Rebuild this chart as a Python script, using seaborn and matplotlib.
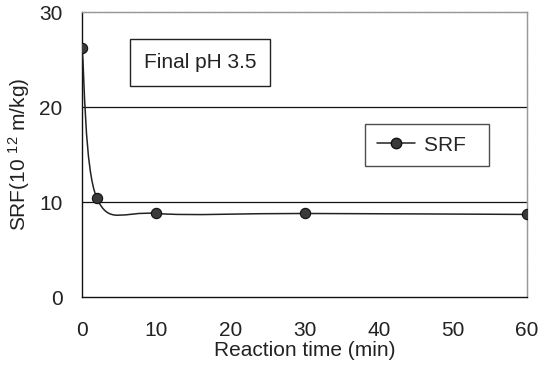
import numpy as np
import matplotlib
matplotlib.use("Agg")
import matplotlib.pyplot as plt
from matplotlib.path import Path
from matplotlib.patches import PathPatch
from matplotlib.lines import Line2D
import seaborn as sns
import pandas as pd

time_min = [0, 2, 10, 30, 60]
srf = [26.2, 10.4, 8.8, 8.8, 8.7]
x_ticks = [0, 10, 20, 30, 40, 50, 60]
y_ticks = [0, 10, 20, 30]

sns.set_theme(style="white")
plt.rcParams['font.family'] = ['Liberation Sans', 'DejaVu Sans']
plt.rcParams['mathtext.default'] = 'regular'

df = pd.DataFrame({"time": time_min, "SRF": srf})

fig = plt.figure(figsize=(5.4, 3.69), dpi=100)
ax = fig.add_axes([0.152, 0.195, 0.824, 0.772])

# Excel-style smoothed line (Bezier through data points)
pts = np.column_stack([time_min, srf]).astype(float)
n = len(pts)
verts = [pts[0]]
codes = [Path.MOVETO]
for i in range(n - 1):
    p0 = pts[i - 1] if i > 0 else pts[i]
    p1 = pts[i]
    p2 = pts[i + 1]
    p3 = pts[i + 2] if i + 2 < n else pts[i + 1]
    c1 = p1 + (p2 - p0) / 6.0
    c2 = p2 - (p3 - p1) / 6.0
    verts += [c1, c2, p2]
    codes += [Path.CURVE4] * 3
ax.add_patch(PathPatch(Path(verts, codes), fill=False, edgecolor='#222222', lw=1.1,
                       transform=ax.transData, zorder=3))

sns.scatterplot(data=df, x="time", y="SRF", ax=ax, s=55, color='#3a3a3a',
                edgecolor='#111111', linewidth=0.8, zorder=4, legend=False)

ax.set_xlim(0, 60)
ax.set_ylim(0, 30)
ax.set_xticks(x_ticks)
ax.set_yticks(y_ticks)
for yv in [10, 20]:
    ax.axhline(yv, color='#111111', lw=0.9, zorder=1)

for s in ['left', 'bottom']:
    ax.spines[s].set_color('#111111')
    ax.spines[s].set_linewidth(1.0)
for s in ['top', 'right']:
    ax.spines[s].set_color('#999999')
    ax.spines[s].set_linewidth(1.0)
    ax.spines[s].set_linestyle((0, (1, 0.6)))

ax.tick_params(axis='x', direction='in', length=4, width=0.8, color='#333333',
               labelsize=15, labelcolor='#222222', pad=17)
ax.tick_params(axis='y', length=0, labelsize=15, labelcolor='#222222', pad=14)

ax.set_xlabel("Reaction time (min)", fontsize=15, color='#222222', labelpad=1)
ax.set_ylabel("SRF(10 $^{12}$ m/kg)", fontsize=15, color='#222222', labelpad=5)

ax.text(15.9, 24.7, "Final pH 3.5", fontsize=15, color='#222222', ha='center', va='center',
        bbox=dict(boxstyle='square,pad=0.65', facecolor='white', edgecolor='#222222', lw=1.0),
        zorder=5)

handle = Line2D([], [], color='#222222', lw=1.1, marker='o', markersize=7.5,
                markerfacecolor='#3a3a3a', markeredgecolor='#111111')
leg = ax.legend([handle], ["SRF  "], loc='center', bbox_to_anchor=(0.775, 0.533),
                frameon=True, fancybox=False, edgecolor='#222222', fontsize=15,
                handlelength=1.85, borderpad=0.55, handletextpad=0.4,
                borderaxespad=0)
leg.get_frame().set_linewidth(1.0)
leg.set_zorder(5)

fig.savefig("out.png", dpi=100)
